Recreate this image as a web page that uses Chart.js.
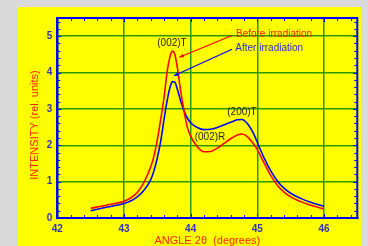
<!DOCTYPE html>
<html>
<head>
<meta charset="utf-8">
<script src="https://cdn.jsdelivr.net/npm/chart.js@4"></script>
<style>
  html, body { margin: 0; padding: 0; }
  body { width: 368px; height: 246px; background: #d9d9d9; position: relative; overflow: hidden; }
  #panel { position: absolute; left: 18px; top: 7px; width: 343px; height: 239px; background: #ffff00; }
</style>
</head>
<body>
<div id="panel"><canvas id="xrdChart" width="343" height="239"></canvas></div>
<script>
// XRD scan, before / after irradiation
const angles = [42.5, 42.75, 43.0, 43.1, 43.2, 43.3, 43.4, 43.45, 43.5, 43.55, 43.6, 43.65, 43.7, 43.73, 43.76,
    43.8, 43.85, 43.9, 43.95, 44.0, 44.1, 44.2, 44.3, 44.4, 44.5, 44.6, 44.7, 44.77, 44.85, 44.95,
    45.0, 45.1, 45.2, 45.3, 45.4, 45.5, 45.65, 45.8, 46.0];
const beforeIntensity = [0.27, 0.36, 0.46, 0.55, 0.70, 0.98, 1.40, 1.70, 2.15, 2.70, 3.30, 4.05, 4.50, 4.59, 4.52,
    4.15, 3.50, 2.95, 2.50, 2.25, 1.96, 1.82, 1.83, 1.92, 2.05, 2.18, 2.28, 2.31, 2.24, 2.02,
    1.88, 1.52, 1.17, 0.90, 0.71, 0.58, 0.45, 0.35, 0.25];
const afterIntensity = [0.20, 0.30, 0.40, 0.47, 0.58, 0.76, 1.05, 1.30, 1.65, 2.10, 2.70, 3.25, 3.65, 3.75, 3.74,
    3.55, 3.22, 2.95, 2.75, 2.62, 2.49, 2.43, 2.44, 2.49, 2.56, 2.63, 2.70, 2.71, 2.60, 2.30,
    2.08, 1.66, 1.30, 1.02, 0.82, 0.68, 0.54, 0.43, 0.32];
const xTickValues = [42, 43, 44, 45, 46];
const yTickValues = [0, 1, 2, 3, 4, 5];

const FONT = 'Arial, "Liberation Sans", sans-serif';
const AXIS_BLUE = '#0000ff';
const GRID_GREEN = '#2a9a00';
const TITLE_RED = '#ff2200';

// text labels and leader arrows, in data units
const labels = [
    { text: '(002)T', x: 43.72, y: 4.80, color: '#222222', align: 'center' },
    { text: '(200)T', x: 44.77, y: 2.91, color: '#222222', align: 'center' },
    { text: '(002)R', x: 44.29, y: 2.21, color: '#222222', align: 'center' },
    { text: 'Before irradiation', x: 44.68, y: 5.04, color: '#ff1a00', align: 'left' },
    { text: 'After irradiation', x: 44.67, y: 4.67, color: '#2b2bd0', align: 'left' }
];
const arrows = [
    { from: [44.62, 5.02], to: [43.83, 4.42], color: '#ff0000' },
    { from: [44.62, 4.64], to: [43.75, 3.91], color: '#0000ff' }
];

const framePlugin = {
    id: 'frame',
    afterDatasetsDraw(chart) {
        const { ctx, chartArea: a, scales: { x, y } } = chart;
        ctx.save();
        // inward ticks on all four sides
        ctx.strokeStyle = AXIS_BLUE;
        ctx.lineWidth = 1;
        for (let v = 42; v <= 46.5001; v += 0.2) {
            const px = Math.round(x.getPixelForValue(v)) + 0.5;
            const len = Math.abs(v - Math.round(v)) < 0.01 ? 4 : 3;
            ctx.beginPath();
            ctx.moveTo(px, a.bottom); ctx.lineTo(px, a.bottom - len);
            ctx.moveTo(px, a.top); ctx.lineTo(px, a.top + len);
            ctx.stroke();
        }
        for (let v = 0; v <= 5.5001; v += 0.2) {
            const py = Math.round(y.getPixelForValue(v)) + 0.5;
            const len = Math.abs(v - Math.round(v)) < 0.01 ? 4 : 3;
            ctx.beginPath();
            ctx.moveTo(a.left, py); ctx.lineTo(a.left + len, py);
            ctx.moveTo(a.right, py); ctx.lineTo(a.right - len, py);
            ctx.stroke();
        }
        // box
        ctx.lineWidth = 2;
        ctx.strokeRect(a.left, a.top, a.right - a.left, a.bottom - a.top);

        // arrows
        arrows.forEach(ar => {
            const x1 = x.getPixelForValue(ar.from[0]), y1 = y.getPixelForValue(ar.from[1]);
            const x2 = x.getPixelForValue(ar.to[0]), y2 = y.getPixelForValue(ar.to[1]);
            const ang = Math.atan2(y2 - y1, x2 - x1);
            ctx.strokeStyle = ar.color;
            ctx.fillStyle = ar.color;
            ctx.lineWidth = 1.2;
            ctx.beginPath();
            ctx.moveTo(x1, y1); ctx.lineTo(x2, y2);
            ctx.stroke();
            ctx.beginPath();
            ctx.moveTo(x2, y2);
            ctx.lineTo(x2 - 5 * Math.cos(ang - 0.4), y2 - 5 * Math.sin(ang - 0.4));
            ctx.lineTo(x2 - 5 * Math.cos(ang + 0.4), y2 - 5 * Math.sin(ang + 0.4));
            ctx.closePath();
            ctx.fill();
        });

        // labels
        ctx.font = '10px ' + FONT;
        ctx.textBaseline = 'middle';
        labels.forEach(l => {
            ctx.fillStyle = l.color;
            ctx.textAlign = l.align;
            ctx.fillText(l.text, x.getPixelForValue(l.x), y.getPixelForValue(l.y));
        });

        // axis titles
        ctx.font = '11px ' + FONT;
        ctx.fillStyle = TITLE_RED;
        ctx.textAlign = 'center';
        ctx.fillText('ANGLE 2θ  (degrees)', (a.left + a.right) / 2, a.bottom + 23);
        ctx.translate(17, (a.top + a.bottom) / 2 + 7);
        ctx.rotate(-Math.PI / 2);
        ctx.fillText('INTENSITY (rel. units)', 0, 0);
        ctx.restore();
    }
};

new Chart(document.getElementById('xrdChart').getContext('2d'), {
    type: 'line',
    data: {
        datasets: [
            {
                label: 'Before irradiation',
                data: angles.map((a, i) => ({ x: a, y: beforeIntensity[i] })),
                borderColor: '#ff0000',
                borderWidth: 1.6,
                pointRadius: 0,
                cubicInterpolationMode: 'monotone',
                fill: false
            },
            {
                label: 'After irradiation',
                data: angles.map((a, i) => ({ x: a, y: afterIntensity[i] })),
                borderColor: '#0000ff',
                borderWidth: 1.6,
                pointRadius: 0,
                cubicInterpolationMode: 'monotone',
                fill: false
            }
        ]
    },
    options: {
        responsive: false,
        animation: false,
        layout: { padding: { top: 7, right: 3.7, left: 0, bottom: 0 } },
        plugins: {
            legend: { display: false },
            tooltip: { enabled: false }
        },
        scales: {
            x: {
                type: 'linear',
                min: 42,
                max: 46.5,
                afterBuildTicks: s => { s.ticks = xTickValues.map(v => ({ value: v })); },
                afterFit: s => { s.height = 28; },
                grid: { color: GRID_GREEN, lineWidth: 1.5, drawTicks: false },
                border: { color: AXIS_BLUE, width: 2 },
                ticks: { color: '#3333b0', padding: 5, font: { family: FONT, size: 10, weight: 'bold' }, maxRotation: 0 }
            },
            y: {
                min: 0,
                max: 5.5,
                afterBuildTicks: s => { s.ticks = yTickValues.map(v => ({ value: v })); },
                afterFit: s => { s.width = 39.3; },
                grid: { color: GRID_GREEN, lineWidth: 1.5, drawTicks: false },
                border: { color: AXIS_BLUE, width: 2 },
                ticks: { color: '#3333b0', padding: 5, font: { family: FONT, size: 10, weight: 'bold' } }
            }
        }
    },
    plugins: [framePlugin]
});
</script>
</body>
</html>
